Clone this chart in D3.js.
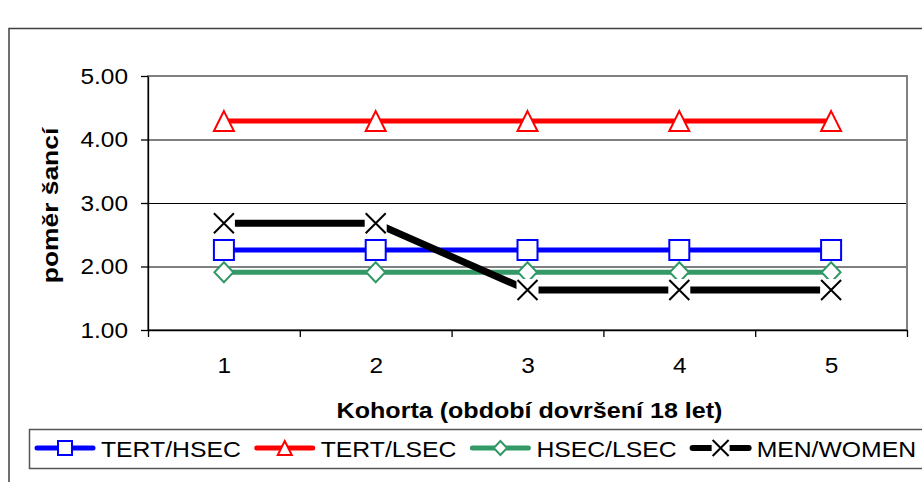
<!DOCTYPE html>
<html>
<head>
<meta charset="utf-8">
<script src="https://cdn.jsdelivr.net/npm/d3@7"></script>
<style>
  body { margin: 0; background: #fff; }
  svg { display: block; }
  text { font-family: "Liberation Sans", Arial, sans-serif; fill: #000; }
</style>
</head>
<body>
<svg id="chart" width="922" height="482"></svg>
<script>
// ---- data ----
const cohorts = [1, 2, 3, 4, 5];
const yTicks = [1, 2, 3, 4, 5];
const tertHsec = [2.26, 2.26, 2.26, 2.26, 2.26];
const tertLsec = [4.29, 4.29, 4.29, 4.29, 4.29];
const hsecLsec = [1.91, 1.91, 1.91, 1.91, 1.91];
const menWomen = [2.68, 2.68, 1.63, 1.63, 1.63];
const seriesNames = ["TERT/HSEC", "TERT/LSEC", "HSEC/LSEC", "MEN/WOMEN"];
const yTitle = "poměr šancí";
const xTitle = "Kohorta (období dovršení 18 let)";

// ---- series styling ----
const series = [
  { name: seriesNames[0], values: tertHsec, color: "#0000ff", width: 5, marker: "square" },
  { name: seriesNames[1], values: tertLsec, color: "#ff0000", width: 5, marker: "triangle" },
  { name: seriesNames[2], values: hsecLsec, color: "#339966", width: 5, marker: "diamond" },
  { name: seriesNames[3], values: menWomen, color: "#000000", width: 7, marker: "cross" }
];

const svg = d3.select("#chart");
const plot = { left: 148, right: 907, top: 76, bottom: 330 };

svg.append("rect").attr("width", 922).attr("height", 482).attr("fill", "#fff");

// outer chart frame (runs past the right and bottom edge)
svg.append("rect")
  .attr("x", 9).attr("y", 28.5).attr("width", 1000).attr("height", 1000)
  .attr("fill", "none").attr("stroke", "#404040").attr("stroke-width", 1.5);

const x = d3.scaleLinear().domain([cohorts[0] - 0.5, cohorts[cohorts.length - 1] + 0.5])
  .range([plot.left, plot.right]);
const y = d3.scaleLinear().domain([yTicks[0], yTicks[yTicks.length - 1]])
  .range([plot.bottom, plot.top]);

// horizontal gridlines
svg.append("g").selectAll("line")
  .data(yTicks.slice(1, -1))
  .join("line")
  .attr("x1", plot.left).attr("x2", plot.right)
  .attr("y1", d => y(d) + 0.5).attr("y2", d => y(d) + 0.5)
  .attr("stroke", "#000").attr("stroke-width", 1);

// plot-area border
svg.append("rect")
  .attr("x", plot.left).attr("y", plot.top)
  .attr("width", plot.right - plot.left).attr("height", plot.bottom - plot.top)
  .attr("fill", "none").attr("stroke", "#808080").attr("stroke-width", 2);

const TICK_FONT = 22;
const TICK_STRETCH = 1.11;

// y axis
const yAxis = svg.append("g")
  .attr("transform", `translate(${plot.left},0)`)
  .call(d3.axisLeft(y).tickValues(yTicks).tickFormat(d3.format(".2f"))
    .tickSize(7).tickSizeOuter(0).tickPadding(13));
yAxis.selectAll("path, line").attr("stroke", "#000").attr("stroke-width", 1.3);
yAxis.selectAll("text")
  .attr("font-size", TICK_FONT).attr("font-family", '"Liberation Sans", Arial, sans-serif')
  .each(function () {
    const t = d3.select(this);
    const x0 = +t.attr("x");
    t.attr("x", x0 / TICK_STRETCH).attr("transform", `scale(${TICK_STRETCH},1)`);
  });

// x axis: ticks between categories
const bounds = cohorts.map(c => c - 0.5).concat([cohorts[cohorts.length - 1] + 0.5]);
const xAxis = svg.append("g")
  .attr("transform", `translate(0,${plot.bottom})`)
  .call(d3.axisBottom(x).tickValues(bounds).tickFormat("").tickSize(7).tickSizeOuter(0));
xAxis.selectAll("path, line").attr("stroke", "#000").attr("stroke-width", 1.3);

// x axis: category labels
const xLabels = svg.append("g")
  .attr("transform", `translate(0,${plot.bottom})`)
  .call(d3.axisBottom(x).tickValues(cohorts).tickFormat(d3.format("d"))
    .tickSize(0).tickPadding(27));
xLabels.select(".domain").remove();
xLabels.selectAll("text")
  .attr("font-size", TICK_FONT).attr("font-family", '"Liberation Sans", Arial, sans-serif')
  .attr("transform", `scale(${TICK_STRETCH},1)`);

// axis titles
svg.append("text")
  .attr("transform", `translate(${(plot.left + plot.right) / 2 + 2},418) scale(1.14,1)`)
  .attr("text-anchor", "middle").attr("font-size", 22).attr("font-weight", "bold")
  .text(xTitle);

svg.append("text")
  .attr("transform", "translate(58,205.5) rotate(-90) scale(1.2,1)")
  .attr("text-anchor", "middle").attr("font-size", 22).attr("font-weight", "bold")
  .text(yTitle);

// marker drawing
function drawMarker(g, type, color, s) {
  const h = s / 2;
  if (type === "square") {
    g.append("rect").attr("x", -h).attr("y", -h).attr("width", s).attr("height", s)
      .attr("fill", "#fff").attr("stroke", color).attr("stroke-width", 2);
  } else if (type === "triangle") {
    g.append("path").attr("d", `M0,${-h}L${h},${h}L${-h},${h}Z`)
      .attr("fill", "#fff").attr("stroke", color).attr("stroke-width", 2);
  } else if (type === "diamond") {
    g.append("path").attr("d", `M0,${-h}L${h * 0.95},0L0,${h}L${-h * 0.95},0Z`)
      .attr("fill", "#fff").attr("stroke", color).attr("stroke-width", 2);
  } else if (type === "cross") {
    const b = h + 1;
    g.append("rect").attr("x", -b).attr("y", -b).attr("width", 2 * b).attr("height", 2 * b)
      .attr("fill", "#fff");
    g.append("path").attr("d", `M${-h},${-h}L${h},${h}M${h},${-h}L${-h},${h}`)
      .attr("fill", "none").attr("stroke", color).attr("stroke-width", 2);
  }
}

// series lines and markers
const line = d3.line().x((d, i) => x(cohorts[i])).y(d => y(d));
series.forEach(s => {
  const g = svg.append("g");
  g.append("path").attr("d", line(s.values))
    .attr("fill", "none").attr("stroke", s.color).attr("stroke-width", s.width)
    .attr("stroke-linejoin", "miter");
  s.values.forEach((v, i) => {
    const m = g.append("g").attr("transform", `translate(${x(cohorts[i])},${y(v)})`);
    drawMarker(m, s.marker, s.color, 20);
  });
});

// legend
const legend = svg.append("g");
legend.append("rect")
  .attr("x", 29.5).attr("y", 429.5).attr("width", 1000).attr("height", 39)
  .attr("fill", "#fff").attr("stroke", "#555").attr("stroke-width", 1.5);

const LEG_STRETCH = 1.1;
let lx = 35;
const ly = 448;
series.forEach(s => {
  const g = legend.append("g");
  g.append("line").attr("x1", lx + 2).attr("x2", lx + 58).attr("y1", ly).attr("y2", ly)
    .attr("stroke", s.color).attr("stroke-width", s.width === 7 ? 6 : 5)
    .attr("stroke-linecap", "round");
  const m = g.append("g").attr("transform", `translate(${lx + 30},${ly})`);
  drawMarker(m, s.marker, s.color, s.marker === "cross" ? 16 : 14);
  const tx = lx + 66;
  const t = g.append("text")
    .attr("transform", `translate(${tx},456.5) scale(${LEG_STRETCH},1)`)
    .attr("font-size", 22.5).text(s.name);
  const w = t.node().getComputedTextLength() * LEG_STRETCH;
  lx = tx + w + 14;
});
</script>
</body>
</html>
